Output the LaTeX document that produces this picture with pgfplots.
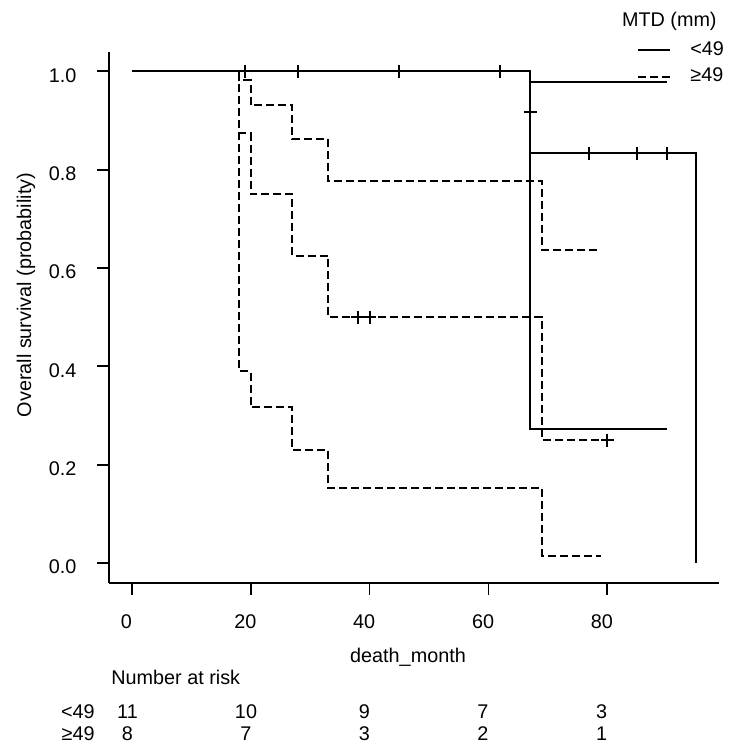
\documentclass[border=0pt]{standalone}
\usepackage{fontspec}
\setmainfont{Liberation Sans}
\usepackage{pgfplots}
\pgfplotsset{compat=1.18}

\tikzset{
  kmdash/.style={line width=1pt, dash pattern=on 4pt off 2pt},
  kmsolid/.style={line width=1pt},
}

\begin{document}
\fontsize{9.9}{11.9}\selectfont
\begin{tikzpicture}
\useasboundingbox (0,0) rectangle (375pt,-375pt);
\begin{axis}[
  at={(54.65pt,-291.35pt)}, anchor=south west,
  scale only axis, width=304.85pt, height=265.5pt,
  xmin=-3.8, xmax=98.8, ymin=-0.04, ymax=1.04,
  axis x line*=bottom, axis y line*=left,
  xtick={0,20,40,60,80}, ytick={0,0.2,0.4,0.6,0.8,1},
  tick align=outside, major tick length=6pt,
  tick style={line width=0.9pt, black},
  axis line style={line width=0.9pt, black},
  /pgf/number format/assume math mode=true,
  ticklabel style={font=\fontsize{9.9}{11.9}\selectfont},
  xticklabel style={yshift=-6.6pt, xshift=-2.7pt},
  yticklabel style={xshift=-7pt, yshift=-2pt},
  y tick label style={/pgf/number format/.cd, fixed, fixed zerofill, precision=1},
  clip=false,
]
% MTD >= 49: confidence limits and survival estimate
\addplot[kmdash, const plot] coordinates {
  (0,1) (18,0.982) (20,0.931) (27,0.862) (33,0.777) (69,0.637) (79,0.637)};
\addplot[kmdash, const plot] coordinates {
  (0,1) (18,0.390) (20,0.317) (27,0.230) (33,0.153) (69,0.015) (79,0.015)};
\addplot[kmdash, const plot] coordinates {
  (0,1) (18,0.875) (20,0.750) (27,0.625) (33,0.500) (69,0.250) (80,0.250)};
\addplot[only marks, mark=+, mark size=3.25pt, line width=1pt] coordinates {
  (38,0.5) (40,0.5) (80,0.25)};

% MTD < 49: confidence limits and survival estimate
\addplot[kmsolid, const plot] coordinates {(0,1) (67,0.978) (90,0.978)};
\addplot[kmsolid, const plot] coordinates {(0,1) (67,0.273) (90,0.273)};
\addplot[kmsolid, const plot] coordinates {(0,1) (67,0.833) (95,0) };
\addplot[only marks, mark=+, mark size=3.25pt, line width=1pt] coordinates {
  (19,1) (28,1) (45,1) (62,1) (67,0.917) (77,0.833) (85,0.833) (90,0.833)};
\end{axis}

\begin{scope}[x=0.5pt, y=-0.5pt]
  % axis titles
  \node[rotate=90] at (26,295) {Overall survival (probability)};
  \node[anchor=base] at (408,662) {death\_month};
  % legend
  \node[anchor=base east, inner sep=0pt] at (717,26.7) {MTD (mm)};
  \draw[kmsolid] (638,50) -- (670,50);
  \node[anchor=base west, inner sep=0pt] at (690,55) {<49};
  \draw[kmdash] (638,77) -- (670,77);
  \node[anchor=base west, inner sep=0pt] at (690,81.7) {≥49};
  % number at risk table
  \node[anchor=base west, inner sep=0pt] at (111,684) {Number at risk};
  \node[anchor=base east, inner sep=0pt] at (95,718.5) {<49};
  \node[anchor=base east, inner sep=0pt] at (95,740) {≥49};
  \foreach \xp/\a/\b in {127.5/11/8, 246/10/7, 364.5/9/3, 483/7/2, 601.5/3/1} {
    \node[anchor=base, inner sep=0pt] at (\xp,718.5) {\a};
    \node[anchor=base, inner sep=0pt] at (\xp,740) {\b};
  }
\end{scope}
\end{tikzpicture}
\end{document}
